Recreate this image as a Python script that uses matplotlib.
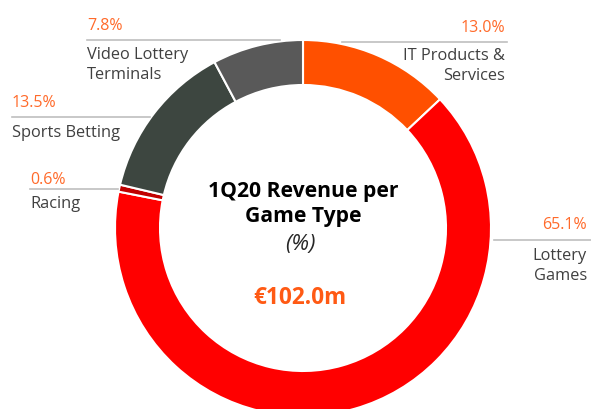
# =====================================================
# 1Q20 REVENUE PER GAME TYPE - DONUT CHART
# =====================================================

import matplotlib.pyplot as plt

plt.rcParams['font.family'] = ['Open Sans', 'DejaVu Sans']

# =====================================================
# DATA
# =====================================================

segments = ["IT Products &\nServices", "Lottery\nGames", "Racing",
            "Sports Betting", "Video Lottery\nTerminals"]
shares = [13.0, 65.1, 0.6, 13.5, 7.8]
pct_labels = ["13.0%", "65.1%", "0.6%", "13.5%", "7.8%"]
colors = ["#FF5000", "#FF0000", "#C00000", "#3D4640", "#595959"]

title_lines = "1Q20 Revenue per\nGame Type"
unit_text = "(%)"
total_text = "€102.0m"

# label layout in pixels from the top: (text x, align, pct y, line y, line x0, line x1, name y)
layout = [
    (505, "right", 28, 43, 342, 507, 66),
    (587, "right", 225, 241, 494, 591, 266),
    (30, "left", 180, 190, 30, 118, 204),
    (12, "left", 103, 118, 12, 150, 133),
    (87, "left", 26, 41, 87, 280, 65),
]

H = 410

# =====================================================
# FIGURE
# =====================================================

fig = plt.figure(figsize=(5.91, 4.10), dpi=100)
ax = fig.add_axes([0, 0, 1, 1])

ax.pie(
    shares,
    colors=colors,
    startangle=90,
    counterclock=False,
    center=(303, H - 229),
    radius=188,
    wedgeprops=dict(width=45, edgecolor="white", linewidth=1.5),
    frame=True,
)
ax.set_xlim(0, 591)
ax.set_ylim(0, H)
ax.set_aspect('equal')
ax.axis('off')

# =====================================================
# LABELS
# =====================================================

for name, pct, (tx, ha, py, ly, lx0, lx1, ny) in zip(segments, pct_labels, layout):
    ax.text(tx, H - py, pct, ha=ha, va="center", fontsize=11.5, color="#FF6A2A")
    ax.plot([lx0, lx1], [H - ly, H - ly], color="#BFBFBF", linewidth=1.2)
    ax.text(tx, H - ny, name, ha=ha, va="center", fontsize=11.8,
            color="#404040", linespacing=1.3)

# =====================================================
# CENTRE TEXT
# =====================================================

ax.text(303, H - 204, title_lines, ha="center", va="center", fontsize=15.2,
        fontweight="bold", color="black", linespacing=1.28)
ax.text(300, H - 245, unit_text, ha="center", va="center", fontsize=16,
        style="italic", color="#262626")
ax.text(300, H - 298, total_text, ha="center", va="center", fontsize=16.3,
        fontweight="bold", color="#FF5A14")

plt.savefig("out.png", dpi=100)
